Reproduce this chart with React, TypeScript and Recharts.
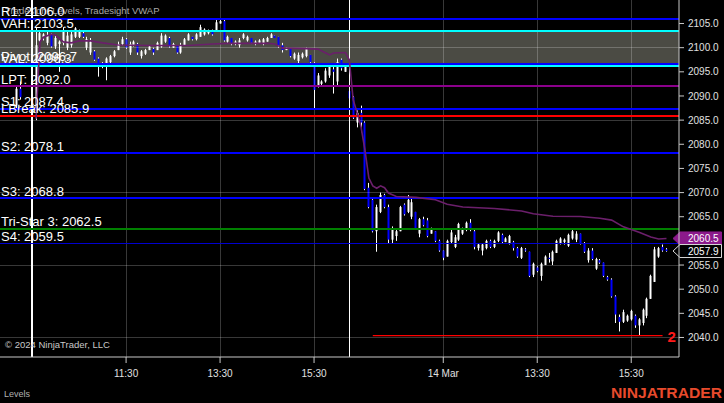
import React from 'react';
import { ComposedChart, Bar, Line, XAxis, YAxis, ReferenceLine, ReferenceArea } from 'recharts';

type OHLC = [number, number, number, number]; // open, high, low, close

// ---------- DATA ----------
const preSessionStart = -4;
const preSession: OHLC[] = [
  [2088.0, 2092.25, 2087.0, 2091.5],
  [2091.5, 2093.0, 2089.25, 2089.75],
];

const day1Start = 0;
const day1: OHLC[] = [
  [2086.5, 2088.5, 2085.25, 2087.0],
  [2087.0, 2104.25, 2085.0, 2100.5],
  [2101.5, 2103.25, 2101.25, 2103.0],
  [2102.25, 2103.0, 2101.5, 2102.75],
  [2101.0, 2103.25, 2100.5, 2102.5],
  [2102.75, 2103.0, 2100.0, 2100.25],
  [2100.25, 2102.5, 2099.75, 2102.0],
  [2100.75, 2101.5, 2095.0, 2101.25],
  [2101.0, 2104.25, 2100.5, 2103.5],
  [2100.0, 2103.25, 2099.5, 2102.5],
  [2100.5, 2103.25, 2100.0, 2102.75],
  [2102.25, 2104.25, 2102.0, 2104.0],
  [2102.25, 2103.75, 2102.0, 2103.25],
  [2103.0, 2103.25, 2102.0, 2102.25],
  [2100.0, 2102.25, 2099.5, 2101.75],
  [2099.0, 2102.0, 2098.5, 2101.25],
  [2099.25, 2099.5, 2097.25, 2097.5],
  [2097.75, 2098.0, 2094.0, 2096.0],
  [2096.0, 2097.0, 2095.75, 2096.75],
  [2096.5, 2098.0, 2093.25, 2097.75],
  [2097.0, 2098.5, 2096.75, 2098.25],
  [2098.25, 2099.5, 2098.0, 2099.25],
  [2099.5, 2101.25, 2099.5, 2100.75],
  [2100.75, 2102.25, 2100.5, 2101.75],
  [2101.75, 2102.0, 2099.75, 2100.0],
  [2099.0, 2101.25, 2098.5, 2100.75],
  [2100.5, 2101.5, 2100.25, 2101.25],
  [2100.75, 2101.0, 2098.5, 2099.0],
  [2098.25, 2099.5, 2097.75, 2099.25],
  [2098.75, 2099.75, 2098.5, 2099.5],
  [2099.5, 2100.5, 2099.5, 2100.25],
  [2099.75, 2100.0, 2098.5, 2099.0],
  [2099.5, 2101.25, 2099.5, 2101.0],
  [2100.25, 2103.0, 2100.0, 2102.5],
  [2101.25, 2102.75, 2101.0, 2102.5],
  [2102.0, 2102.25, 2100.0, 2100.25],
  [2100.0, 2101.0, 2100.0, 2100.75],
  [2100.5, 2100.5, 2098.75, 2099.0],
  [2099.0, 2101.0, 2098.75, 2100.5],
  [2100.5, 2102.0, 2100.5, 2101.75],
  [2101.5, 2103.0, 2101.5, 2102.75],
  [2102.25, 2102.25, 2101.5, 2101.75],
  [2101.75, 2103.0, 2101.5, 2102.75],
  [2102.25, 2104.75, 2102.25, 2104.25],
  [2102.75, 2104.0, 2102.5, 2103.75],
  [2103.0, 2103.75, 2102.75, 2103.5],
  [2103.5, 2103.75, 2102.5, 2102.75],
  [2103.25, 2105.75, 2103.25, 2105.25],
  [2105.0, 2106.0, 2105.0, 2105.5],
  [2105.5, 2105.75, 2101.25, 2101.5],
  [2101.25, 2102.5, 2101.0, 2102.25],
  [2102.0, 2102.0, 2100.5, 2100.75],
  [2100.75, 2101.5, 2100.5, 2101.25],
  [2100.5, 2102.0, 2100.0, 2101.5],
  [2102.0, 2103.0, 2101.75, 2102.75],
  [2101.5, 2102.5, 2101.25, 2102.25],
  [2102.0, 2102.0, 2100.75, 2101.0],
  [2100.75, 2101.5, 2100.5, 2101.25],
  [2101.0, 2101.75, 2101.0, 2101.5],
  [2100.75, 2102.0, 2100.5, 2101.75],
  [2101.25, 2102.25, 2101.25, 2102.0],
  [2102.0, 2103.0, 2102.0, 2102.75],
  [2102.5, 2102.5, 2102.0, 2102.0],
  [2102.25, 2102.25, 2100.0, 2100.5],
  [2100.5, 2101.0, 2099.0, 2099.5],
  [2099.5, 2100.0, 2099.5, 2100.0],
  [2099.75, 2099.75, 2098.0, 2098.25],
  [2097.75, 2099.0, 2097.5, 2098.75],
  [2097.25, 2099.0, 2096.75, 2098.5],
  [2098.0, 2099.0, 2097.75, 2098.75],
  [2098.25, 2100.0, 2098.0, 2099.75],
  [2098.5, 2098.5, 2096.75, 2097.0],
  [2096.75, 2097.0, 2087.5, 2091.25],
  [2092.0, 2094.75, 2091.75, 2094.25],
  [2092.5, 2093.25, 2092.25, 2093.0],
  [2093.0, 2095.75, 2092.75, 2095.25],
  [2094.25, 2096.5, 2093.75, 2096.0],
  [2095.5, 2096.5, 2090.5, 2095.0],
  [2093.0, 2097.75, 2092.25, 2097.0],
  [2097.5, 2097.75, 2095.25, 2095.75],
  [2095.0, 2096.75, 2095.0, 2096.5],
];

const day2Start = 81;
const day2: OHLC[] = [
  [2091.0, 2091.5, 2089.0, 2089.5],
  [2089.75, 2090.0, 2085.25, 2085.5],
  [2084.5, 2087.0, 2083.5, 2086.5],
  [2086.5, 2088.0, 2082.5, 2084.5],
  [2084.5, 2084.75, 2070.5, 2070.75],
  [2071.0, 2072.0, 2066.75, 2067.0],
  [2068.5, 2068.75, 2061.75, 2062.0],
  [2062.0, 2067.5, 2057.75, 2067.0],
  [2066.0, 2070.0, 2065.75, 2069.5],
  [2069.5, 2069.75, 2066.75, 2067.0],
  [2067.0, 2067.5, 2059.5, 2060.25],
  [2060.25, 2063.0, 2059.5, 2062.5],
  [2061.0, 2062.25, 2060.0, 2062.0],
  [2062.0, 2067.25, 2062.0, 2067.0],
  [2067.5, 2067.75, 2065.25, 2065.5],
  [2066.0, 2069.5, 2065.75, 2068.5],
  [2065.0, 2069.0, 2064.5, 2068.0],
  [2066.0, 2066.0, 2062.25, 2062.5],
  [2061.5, 2064.75, 2060.75, 2064.5],
  [2064.5, 2065.0, 2063.0, 2063.25],
  [2064.25, 2064.75, 2060.75, 2061.0],
  [2061.5, 2062.75, 2061.5, 2062.5],
  [2062.0, 2062.0, 2059.75, 2060.0],
  [2060.0, 2060.25, 2057.75, 2058.0],
  [2058.0, 2058.0, 2056.0, 2056.5],
  [2056.75, 2060.25, 2056.75, 2060.0],
  [2059.75, 2062.25, 2059.5, 2061.75],
  [2058.75, 2061.25, 2058.5, 2060.75],
  [2060.25, 2063.75, 2060.0, 2063.5],
  [2061.5, 2062.75, 2061.25, 2062.5],
  [2062.25, 2064.0, 2062.0, 2063.75],
  [2063.75, 2064.5, 2062.0, 2062.25],
  [2062.0, 2062.25, 2058.25, 2058.75],
  [2058.5, 2059.5, 2058.0, 2059.25],
  [2058.0, 2059.5, 2057.0, 2059.25],
  [2058.5, 2060.25, 2058.25, 2060.0],
  [2060.0, 2060.25, 2058.5, 2058.75],
  [2058.75, 2060.25, 2058.5, 2060.0],
  [2060.0, 2062.0, 2059.75, 2061.75],
  [2061.25, 2061.5, 2059.5, 2059.75],
  [2059.75, 2060.75, 2059.75, 2060.5],
  [2059.5, 2061.25, 2059.25, 2061.0],
  [2059.75, 2060.0, 2058.0, 2058.5],
  [2058.5, 2058.75, 2056.5, 2056.75],
  [2056.5, 2058.75, 2056.25, 2058.5],
  [2058.25, 2058.5, 2057.75, 2058.0],
  [2057.75, 2057.75, 2052.5, 2052.75],
  [2053.0, 2055.5, 2052.5, 2055.25],
  [2054.5, 2054.75, 2053.5, 2053.75],
  [2052.75, 2055.5, 2051.75, 2055.25],
  [2055.0, 2057.0, 2055.0, 2056.75],
  [2056.5, 2057.5, 2055.5, 2056.25],
  [2055.75, 2058.0, 2055.0, 2057.75],
  [2057.5, 2060.25, 2057.5, 2060.0],
  [2059.5, 2060.75, 2059.25, 2060.5],
  [2059.75, 2060.5, 2059.25, 2060.25],
  [2059.0, 2061.5, 2058.75, 2061.25],
  [2060.5, 2062.25, 2060.25, 2062.0],
  [2060.25, 2062.0, 2059.75, 2061.5],
  [2061.5, 2061.5, 2059.25, 2059.5],
  [2059.5, 2059.75, 2057.5, 2057.75],
  [2056.0, 2058.5, 2055.5, 2058.0],
  [2058.0, 2058.5, 2056.0, 2056.25],
  [2054.25, 2056.5, 2054.0, 2056.25],
  [2056.0, 2056.25, 2055.25, 2055.5],
  [2055.5, 2055.5, 2052.5, 2052.75],
  [2052.5, 2052.75, 2051.75, 2052.0],
  [2052.0, 2052.25, 2048.25, 2048.5],
  [2048.5, 2048.75, 2043.0, 2044.75],
  [2044.25, 2044.75, 2041.25, 2043.25],
  [2043.25, 2045.75, 2043.0, 2045.25],
  [2043.5, 2044.75, 2043.25, 2044.5],
  [2043.75, 2045.75, 2043.5, 2045.5],
  [2044.5, 2044.75, 2042.0, 2042.5],
  [2042.5, 2044.0, 2040.5, 2043.75],
  [2043.0, 2046.0, 2042.5, 2045.75],
  [2044.5, 2048.25, 2044.0, 2048.0],
  [2048.0, 2053.0, 2048.0, 2052.75],
  [2051.5, 2058.75, 2051.5, 2058.25],
  [2056.75, 2058.75, 2056.5, 2058.5],
  [2058.75, 2059.25, 2057.75, 2058.0],
  [2058.25, 2058.5, 2057.75, 2057.9],
];

// VWAP readings at bar indices: [bar, value]
const vwapPoints: [number, number][] = [
  [1, 2085.3], [2, 2101.2], [3, 2102.2], [5, 2102.8], [6, 2102.6], [8, 2101.2],
  [10, 2101.0], [12, 2101.4], [15, 2101.4], [18, 2101.0], [22, 2100.55], [30, 2100.45],
  [40, 2100.45], [46, 2100.75], [50, 2100.9], [60, 2100.9], [62, 2100.75], [64, 2099.9],
  [70, 2099.8], [73, 2099.7], [75, 2098.9], [76, 2098.5], [77, 2098.9], [80, 2099.0],
  [81, 2097.5], [82, 2089.2], [83, 2086.5], [84, 2083.6], [85, 2078.8], [86, 2073.0],
  [87, 2071.4], [88, 2070.9], [89, 2071.4], [90, 2071.0], [91, 2069.9], [93, 2069.2],
  [98, 2069.0], [103, 2068.5], [106, 2067.6], [110, 2067.0], [118, 2066.7], [125, 2066.2],
  [128, 2065.6], [133, 2065.1], [140, 2065.05], [145, 2064.7], [148, 2064.3], [151, 2062.9],
  [155, 2061.8], [158, 2060.8], [160, 2060.4], [162, 2060.5],
];

const levelNames = ['R1', 'VAH', 'Pivot', 'VAL', 'LPT', 'S1', 'LBreak', 'S2', 'S3', 'Tri-Star 3', 'S4'];
const levelValues = [2106.0, 2103.5, 2096.7, 2096.3, 2092.0, 2087.4, 2085.9, 2078.1, 2068.8, 2062.5, 2059.5];
const valueArea = [2096.3, 2103.5];
const lowMarker = { text: '2', price: 2040.4, fromBar: 87, toBar: 161 };
const vwapLast = 2060.5;
const lastPrice = 2057.9;

const timeTicks = [24, 48, 72, 105, 129, 153];
const timeLabels = ['11:30', '13:30', '15:30', '14 Mar', '13:30', '15:30'];
const sessionBreaks = [0, 81];
const priceTicks = [2040, 2045, 2050, 2055, 2065, 2070, 2075, 2080, 2085, 2090, 2095, 2100, 2105];
const priceGrid = [2040, 2055, 2070, 2085, 2100];
const xDomain: [number, number] = [-8.2, 165.2];
const yDomain: [number, number] = [2035.96, 2109.87];

// ---------- STYLE ----------
const FONT = "'Liberation Sans', Arial, Helvetica, sans-serif";
const levelColors = ['#0000ff', '#00ffff', '#0000ff', '#00ffff', '#8b008b', '#0000ff', '#ff0000', '#0000ff', '#0000ff', '#008000', '#0000d0'];
const levelWidths = [2, 2, 2, 2, 2, 2, 2, 2, 2, 2, 1];
const GRID = 'rgba(255,255,255,0.22)';
const AXIS = '#c8c8c8';

// ---------- ROWS ----------
type Row = { i: number; o: number; h: number; l: number; c: number; vwap?: number };
const rows: Row[] = [];
const pushBars = (start: number, bars: OHLC[]) =>
  bars.forEach((b, k) => rows.push({ i: start + k, o: b[0], h: b[1], l: b[2], c: b[3] }));
pushBars(preSessionStart, preSession);
pushBars(day1Start, day1);
pushBars(day2Start, day2);
vwapPoints.forEach(([bar, v]) => {
  const r = rows.find((row) => row.i === bar);
  if (r) r.vwap = v;
});

const Candle = (props: any) => {
  const { x, y, width, height, payload } = props;
  if (!payload || x == null || y == null) return null;
  const { o, h, l, c } = payload as Row;
  const top = Math.min(y, y + height);
  const bot = Math.max(y, y + height);
  const k = h > l ? (bot - top) / (h - l) : 0;
  const yO = top + (h - o) * k;
  const yC = top + (h - c) * k;
  const cx = Math.round(x + width / 2);
  const up = c >= o;
  const bTop = Math.min(yO, yC);
  const bH = Math.max(1, Math.abs(yC - yO));
  return (
    <g>
      <line x1={cx + 0.5} x2={cx + 0.5} y1={top} y2={bot} stroke="#ffffff" strokeWidth={1} />
      <rect x={cx - 0.5} y={bTop} width={2} height={bH} fill={up ? '#ffffff' : '#0000ff'} />
    </g>
  );
};

const levelLabel = (text: string) => (props: any) => {
  const vb = props.viewBox || {};
  return (
    <text x={(vb.x ?? 0) + 1} y={(vb.y ?? 0) - 2.5} fill="#ffffff" fontSize={13} fontFamily={FONT}>
      {text}
    </text>
  );
};

const flagLabel = (text: string, fill: string, stroke: string) => (props: any) => {
  const vb = props.viewBox || {};
  const r = (vb.x ?? 0) + (vb.width ?? 0);
  const cy = vb.y ?? 0;
  const pts = `${r - 6},${cy} ${r + 1},${cy - 6.5} ${r + 42.5},${cy - 6.5} ${r + 42.5},${cy + 6.5} ${r + 1},${cy + 6.5}`;
  return (
    <g>
      <polygon points={pts} fill={fill} stroke={stroke} strokeWidth={1} />
      <text x={r + 9} y={cy + 3.6} fill="#ffffff" fontSize={10} fontFamily={FONT}>
        {text}
      </text>
    </g>
  );
};

const lowLabel = (props: any) => {
  const vb = props.viewBox || {};
  return (
    <text x={(vb.x ?? 0) + (vb.width ?? 0) + 5} y={(vb.y ?? 0) + 6} fill="#ff1a1a" fontSize={15} fontWeight="bold" fontFamily={FONT}>
      {lowMarker.text}
    </text>
  );
};

export default function App() {
  return (
    <div style={{ position: 'absolute', left: 0, top: 0, width: 724, height: 403, background: '#000', overflow: 'hidden' }}>
      <svg width={724} height={403} style={{ position: 'absolute', left: 0, top: 0 }}>
        <text x={5} y={14} fill="#a8a8a8" fontSize={9.5} fontFamily={FONT}>Tradesight Levels, Tradesight VWAP</text>
      </svg>
      <div style={{ position: 'absolute', left: 0, top: 0 }}>
        <ComposedChart width={724} height={403} data={rows} margin={{ top: 0, right: 0, bottom: 0, left: 0 }}>
          <XAxis
            dataKey="i"
            type="number"
            domain={xDomain}
            allowDataOverflow
            ticks={timeTicks}
            tickFormatter={(v: number) => timeLabels[timeTicks.indexOf(v)] ?? ''}
            height={46}
            stroke={AXIS}
            tickSize={6}
            tickMargin={7}
            tick={{ fill: '#e0e0e0', fontSize: 10, fontFamily: FONT }}
            interval={0}
          />
          <YAxis
            orientation="right"
            type="number"
            domain={yDomain}
            allowDataOverflow
            ticks={priceTicks}
            tickFormatter={(v: number) => v.toFixed(1)}
            width={45}
            stroke={AXIS}
            tickSize={5}
            tickMargin={4}
            tick={{ fill: '#e0e0e0', fontSize: 10, fontFamily: FONT }}
            interval={0}
          />
          <ReferenceArea y1={valueArea[0]} y2={valueArea[1]} fill="#4b4b44" fillOpacity={1} stroke="none" />
          {priceGrid.map((p) => (
            <ReferenceLine key={'hg' + p} y={p} stroke={GRID} strokeWidth={1} shapeRendering="crispEdges" />
          ))}
          {timeTicks.map((t) => (
            <ReferenceLine key={'vg' + t} x={t} stroke={GRID} strokeWidth={1} shapeRendering="crispEdges" />
          ))}
          {sessionBreaks.map((t) => (
            <ReferenceLine key={'sb' + t} x={t} stroke="#ffffff" strokeWidth={1.5} shapeRendering="crispEdges" />
          ))}
          {levelValues.map((v, k) => (
            <ReferenceLine key={'lv' + k} y={v} stroke={levelColors[k]} strokeWidth={levelWidths[k]} shapeRendering="crispEdges" />
          ))}
          <ReferenceLine
            segment={[{ x: lowMarker.fromBar, y: lowMarker.price }, { x: lowMarker.toBar, y: lowMarker.price }]}
            stroke="#ff0000"
            strokeWidth={1.2}
            label={lowLabel}
          />
          <Line dataKey="vwap" type="linear" stroke="#6b1f6b" strokeWidth={1.6} dot={false} connectNulls isAnimationActive={false} />
          <Bar dataKey={(d: Row) => [d.l, d.h]} shape={Candle} barSize={3} isAnimationActive={false} />
          {levelValues.map((v, k) => (
            <ReferenceLine key={'ll' + k} y={v} stroke="none" label={levelLabel(`${levelNames[k]}: ${v.toFixed(1)}`)} />
          ))}
          <ReferenceLine y={vwapLast} stroke="none" label={flagLabel(vwapLast.toFixed(1), '#8b1a8b', '#8b1a8b')} />
          <ReferenceLine y={lastPrice} stroke="none" label={flagLabel(lastPrice.toFixed(1), '#000000', '#d8d8d8')} />
        </ComposedChart>
      </div>
      <svg width={724} height={403} style={{ position: 'absolute', left: 0, top: 0, pointerEvents: 'none' }}>
        <text x={5} y={348} fill="#c8c8c8" fontSize={9.5} fontFamily={FONT}>© 2024 NinjaTrader, LLC</text>
        <text x={4} y={397} fill="#b0b0b0" fontSize={9} fontFamily={FONT}>Levels</text>
        <text x={611} y={398} fill="#e84a2c" fontSize={15} fontWeight="bold" fontFamily={FONT} textLength={111} lengthAdjust="spacingAndGlyphs">NINJATRADER</text>
      </svg>
    </div>
  );
}
